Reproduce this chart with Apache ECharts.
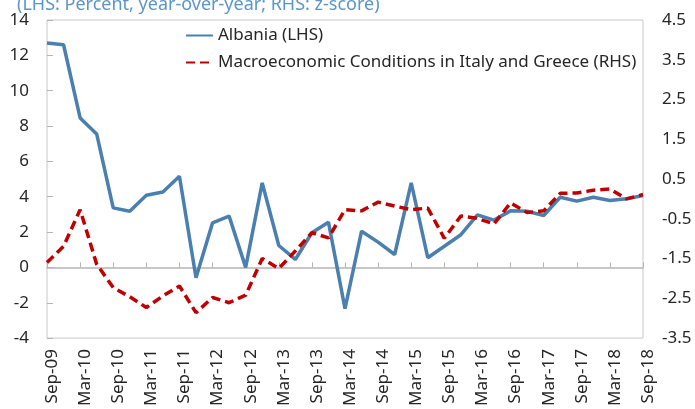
<!DOCTYPE html>
<html>
<head>
<meta charset="utf-8">
<script src="https://cdn.jsdelivr.net/npm/echarts@6/dist/echarts.min.js"></script>
<style>
html,body{margin:0;padding:0;background:#fff;}
#c{width:695px;height:409px;}
</style>
</head>
<body>
<div id="c"></div>
<script>
const categories = ["Sep-09","Dec-09","Mar-10","Jun-10","Sep-10","Dec-10","Mar-11","Jun-11","Sep-11","Dec-11",
  "Mar-12","Jun-12","Sep-12","Dec-12","Mar-13","Jun-13","Sep-13","Dec-13","Mar-14","Jun-14",
  "Sep-14","Dec-14","Mar-15","Jun-15","Sep-15","Dec-15","Mar-16","Jun-16","Sep-16","Dec-16",
  "Mar-17","Jun-17","Sep-17","Dec-17","Mar-18","Jun-18","Sep-18"];
const albania = [12.7,12.6,8.46,7.55,3.37,3.18,4.08,4.27,5.16,-0.58,
  2.52,2.9,0.0,4.78,1.24,0.45,1.96,2.56,-2.33,2.05,
  1.43,0.73,4.78,0.55,1.2,1.85,2.97,2.68,3.2,3.18,
  2.94,3.97,3.75,3.97,3.79,3.88,4.07];
const macroItalyGreece = [-1.6,-1.19,-0.27,-1.64,-2.23,-2.46,-2.73,-2.44,-2.19,-2.86,
  -2.48,-2.61,-2.42,-1.5,-1.75,-1.31,-0.85,-0.98,-0.27,-0.3,
  -0.08,-0.18,-0.27,-0.23,-0.99,-0.43,-0.49,-0.63,-0.1,-0.34,
  -0.3,0.14,0.15,0.22,0.25,0.0,0.11];
const seriesNames = ["Albania (LHS)","Macroeconomic Conditions in Italy and Greece (RHS)"];
const subtitle = "(LHS: Percent, year-over-year; RHS: z-score)";

const chart = echarts.init(document.getElementById('c'), null, {renderer:'canvas'});
const font = "'Noto Sans', sans-serif";
chart.setOption({
  animation:false,
  title:{text:subtitle,left:12,top:-9,textStyle:{color:'#5b95c9',fontSize:18,fontWeight:'normal',fontFamily:font}},
  legend:{
    orient:'vertical',left:180,top:22,itemGap:10,itemWidth:27,itemHeight:20,
    textStyle:{color:'#262626',fontSize:17,fontFamily:font},
    itemStyle:{color:'rgba(0,0,0,0)',borderWidth:0},
    data:[{name:seriesNames[0]},{name:seriesNames[1]}]
  },
  grid:{left:47,right:52,top:20,bottom:70,show:true,borderColor:'#c8c8c8',borderWidth:1,containLabel:false},
  xAxis:[{
    type:'category',data:categories,boundaryGap:false,
    axisLine:{onZero:true,lineStyle:{color:'#b4b4b4',width:1.5}},
    axisTick:{inside:true,interval:1,length:5,lineStyle:{color:'#b4b4b4'}},
    axisLabel:{show:false},splitLine:{show:false}
  },{
    type:'category',data:categories,boundaryGap:false,position:'bottom',
    axisLine:{show:false},axisTick:{show:false},
    axisLabel:{interval:1,rotate:90,margin:11,color:'#262626',fontSize:17,fontFamily:font,verticalAlign:'top',lineHeight:10},
    splitLine:{show:false}
  }],
  yAxis:[{
    type:'value',min:-4,max:14,interval:2,position:'left',
    axisLine:{show:false},axisTick:{show:true,inside:true,length:6,lineStyle:{color:'#b4b4b4'}},
    axisLabel:{color:'#262626',fontSize:17,fontFamily:font,margin:18},
    splitLine:{show:false}
  },{
    type:'value',min:-3.5,max:4.5,interval:1,position:'right',
    axisLine:{show:false},axisTick:{show:false},
    axisLabel:{color:'#262626',fontSize:17,fontFamily:font,margin:19,formatter:v=>v.toFixed(1)},
    splitLine:{show:false}
  }],
  series:[{
    name:seriesNames[0],type:'line',data:albania,xAxisIndex:0,yAxisIndex:0,
    symbol:'none',lineStyle:{color:'#4a7fb0',width:3.5},itemStyle:{color:'#4a7fb0'},z:2
  },{
    name:seriesNames[1],type:'line',data:macroItalyGreece,xAxisIndex:0,yAxisIndex:1,
    symbol:'none',lineStyle:{color:'#c00000',width:3.5,type:[9,5]},itemStyle:{color:'#c00000'},z:3
  }]
});
</script>
</body>
</html>
